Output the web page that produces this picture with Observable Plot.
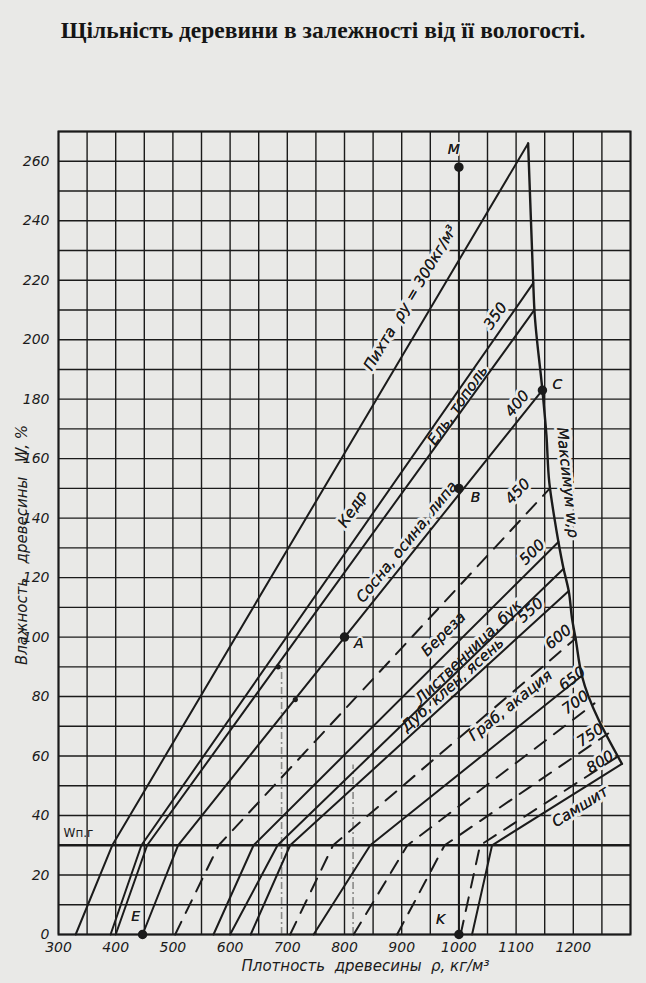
<!DOCTYPE html>
<html><head><meta charset="utf-8">
<script src="https://cdn.jsdelivr.net/npm/d3@7"></script>
<script src="https://cdn.jsdelivr.net/npm/@observablehq/plot@0.6"></script>
<style>
html,body{margin:0;padding:0;background:#e9e9e7;}
#title{height:60px;box-sizing:border-box;padding-top:17px;text-align:center;font:bold 23.5px "Liberation Serif","DejaVu Serif",serif;color:#151515;}
#chart svg{display:block;background:transparent}
</style></head><body>
<div id="title">Щільність деревини в залежності від її вологості.</div>
<div id="chart"></div>
<script>
// ---- data ----
const lineKey      = ["300","350","360","400","450","500","530","550","600","650","700","750","800","Самшит"];
const isDashed     = [false,false,false,false,true,false,false,false,true,false,true,true,true,false];
const rhoDry       = [330, 391, 400, 447, 504, 571, 600, 636, 705, 746, 816, 892, 1003, 1023]; // ρ at W = 0
const rhoAtFsp     = [394, 445, 455, 509, 580, 641, 683, 705, 780, 845, 910, 975, 1037, 1058]; // ρ at W = 30
const rhoAtMax     = [1121,1130,1132,1146,1159,1174,1183,1192,1204,1215,1237,1261,1279, 1285];
const wAtMax       = [266, 219, 210, 183, 150, 132, 123, 115.5, 99.5, 87, 77.7, 67.6, 60, 57.4];
const fspW = 30;

const maxCurveRho = [1121,1130,1132,1146,1153,1158,1167,1174,1183,1192,1198,1204,1215,1285];
const maxCurveW   = [266, 219, 210, 183, 168, 152, 140, 132, 123, 115.5,106, 99.5, 87, 57.4];

const pointNames = ["M", "В", "A", "C", "K", "E"];
const pointRho   = [1000, 1000, 800, 1146, 1000, 447];
const pointW     = [258, 150, 100, 183, 0, 0];

// faint pencil construction marks
const markRho = [684, 714];
const markW   = [90, 79];
const guideRho = [690, 815];
const guideTopW = [90, 57];

const xTicks = [300,400,500,600,700,800,900,1000,1100,1200];
const yTicks = [0,20,40,60,80,100,120,140,160,180,200,220,240,260];
const xGrid = [300,350,400,450,500,550,600,650,700,750,800,850,900,950,1000,1050,1100,1150,1200,1250,1300];
const yGrid = [0,10,20,30,40,50,60,70,80,90,100,110,120,130,140,150,160,170,180,190,200,210,220,230,240,250,260,270];

const lineLabels = [
  {t:"Пихта  ρу = 300кг/м³", x:915, y:214, r:-59},
  {t:"Кедр", x:814, y:143, r:-57},
  {t:"Ель, тополь", x:998, y:178, r:-55},
  {t:"350", x:1064, y:208, r:-55},
  {t:"Сосна, осина, липа", x:909, y:132, r:-51},
  {t:"400", x:1102, y:178.5, r:-51},
  {t:"450", x:1103, y:149, r:-47},
  {t:"500", x:1128, y:128.5, r:-45},
  {t:"Береза", x:973, y:101, r:-45},
  {t:"Лиственница, бук", x:1017, y:95, r:-44},
  {t:"550", x:1125, y:109, r:-42},
  {t:"Дуб, клен, ясень", x:989, y:84, r:-42},
  {t:"600", x:1174, y:100, r:-40},
  {t:"Граб, акация", x:1090, y:77, r:-39},
  {t:"650", x:1198, y:86, r:-38},
  {t:"700", x:1204, y:78, r:-36},
  {t:"750", x:1230, y:67, r:-34},
  {t:"800", x:1247, y:58, r:-32},
  {t:"Самшит", x:1212, y:43, r:-32},
  {t:"Максимум w,ρ", x:1190, y:152, r:84}
];
const pointLabels = [
  {t:"M", x:991, y:264}, {t:"В", x:1029, y:147}, {t:"A", x:825, y:98},
  {t:"C", x:1172, y:185}, {t:"K", x:968, y:5}, {t:"E", x:435, y:6}
];

// ---- build tables ----
function linePoints(i){
  return [
    {id: lineKey[i], rho: rhoDry[i], w: 0},
    {id: lineKey[i], rho: rhoAtFsp[i], w: fspW},
    {id: lineKey[i], rho: rhoAtMax[i], w: wAtMax[i]}
  ];
}
const solidPts = [], dashPts = [];
lineKey.forEach((d,i)=>{ (isDashed[i] ? dashPts : solidPts).push(...linePoints(i)); });
const maxCurve = maxCurveRho.map((r,i)=>({rho:r, w:maxCurveW[i]}));
const pts = pointNames.map((n,i)=>({name:n, rho:pointRho[i], w:pointW[i]}));
const vLine = [{rho: pointRho[4], w1: pointW[4], w2: pointW[0]}];
const marks2 = markRho.map((r,i)=>({rho:r, w:markW[i]}));
const guides = guideRho.map((r,i)=>({rho:r, w2:guideTopW[i]}));

const ink = "#1b1b1b", paper = "#e9e9e7";
const FONT = "'DejaVu Sans', sans-serif";

const chart = Plot.plot({
  width: 646, height: 923,
  marginLeft: 58, marginRight: 16, marginTop: 71, marginBottom: 49,
  x: {domain: [300, 1300], axis: null},
  y: {domain: [0, 270], axis: null},
  style: {fontFamily: FONT, fontStyle: "italic", color: ink, background: "transparent"},
  marks: [
    Plot.ruleX(xGrid, {stroke: ink, strokeWidth: 1.4}),
    Plot.ruleY(yGrid, {stroke: ink, strokeWidth: 1.4}),
    Plot.ruleY([fspW], {stroke: ink, strokeWidth: 2.6}),
    Plot.ruleX(guides, {x:"rho", y1: 0, y2:"w2", stroke: "#8a8a88", strokeWidth: 1.6, strokeDasharray: "7,3,2,3"}),
    Plot.text(lineLabels, {x:"x", y:"y", text:"t", rotate:"r", fontSize: 15, fill: ink, stroke: paper, strokeWidth: 6, fontStyle:"italic"}),
    Plot.text(lineLabels, {x:"x", y:"y", text:"t", rotate:"r", fontSize: 15, fill: ink, fontStyle:"italic"}),
    Plot.line(solidPts, {x:"rho", y:"w", z:"id", stroke: ink, strokeWidth: 2}),
    Plot.line(dashPts, {x:"rho", y:"w", z:"id", stroke: ink, strokeWidth: 2, strokeDasharray: "14,10"}),
    Plot.line(maxCurve, {x:"rho", y:"w", stroke: ink, strokeWidth: 2.4, curve: "monotone-y"}),
    Plot.ruleX(vLine, {x:"rho", y1:"w1", y2:"w2", stroke: ink, strokeWidth: 2}),
    Plot.frame({stroke: ink, strokeWidth: 2}),
    Plot.dot(marks2, {x:"rho", y:"w", r: 2.6, fill: ink, stroke: "none"}),
    Plot.dot(pts, {x:"rho", y:"w", r: 4, fill: ink, stroke: ink}),
    Plot.text(pointLabels, {x:"x", y:"y", text:"t", fontSize: 14, fill: ink, stroke: paper, strokeWidth: 4}),
    Plot.text(pointLabels, {x:"x", y:"y", text:"t", fontSize: 14, fill: ink}),
    Plot.text(["Wп.г"], {x: ()=>335, y: ()=>34, fontSize: 12, fontStyle: "normal", fill: ink}),
    Plot.text(xTicks, {x: d=>d, text: d=>String(d), frameAnchor: "bottom", lineAnchor: "top", dy: 8, fontSize: 14, fill: ink}),
    Plot.text(yTicks, {y: d=>d, text: d=>String(d), frameAnchor: "left", textAnchor: "end", lineAnchor: "middle", dx: -9, fontSize: 14, fill: ink}),
    Plot.text(["Плотность  древесины  ρ, кг/м³"], {frameAnchor: "bottom", lineAnchor: "top", dx: 21, dy: 26, fontSize: 15, fill: ink, style: "letter-spacing:2.6px"}),
    Plot.text(["Влажность   древесины   W, %"], {frameAnchor: "left", textAnchor: "middle", lineAnchor: "middle", dx: -36, dy: 12, rotate: -90, fontSize: 15, fill: ink, style: "letter-spacing:2.6px"})
  ]
});
document.getElementById("chart").appendChild(chart);
</script>
</body></html>
